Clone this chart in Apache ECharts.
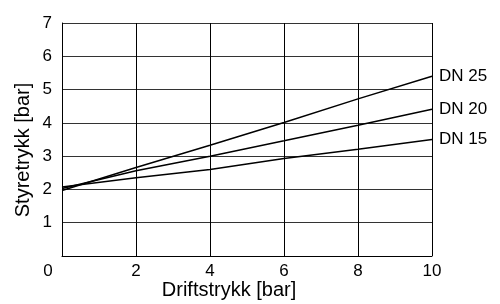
<!DOCTYPE html>
<html>
<head>
<meta charset="utf-8">
<script src="https://cdn.jsdelivr.net/npm/echarts@6/dist/echarts.min.js"></script>
<style>
html, body { margin: 0; padding: 0; background: #fff; }
#chart { width: 500px; height: 304px; }
</style>
</head>
<body>
<div id="chart"></div>
<script>
// driftstrykk (x) readings at each grid line
var xValues = [0, 2, 4, 6, 8, 10];
var dn25 = [1.97, 2.66, 3.33, 4.01, 4.72, 5.4];
var dn20 = [2.03, 2.56, 3.0, 3.46, 3.93, 4.41];
var dn15 = [2.07, 2.35, 2.6, 2.93, 3.21, 3.5];
var seriesNames = ['DN 25', 'DN 20', 'DN 15'];

var font = 'Liberation Sans, Arial, sans-serif';

function pairs(ys) {
    return xValues.map(function (x, i) { return [x, ys[i]]; });
}

function lineSeries(name, ys) {
    return {
        name: name,
        type: 'line',
        data: pairs(ys),
        symbol: 'none',
        silent: true,
        lineStyle: { color: '#000', width: 1.5 },
        endLabel: {
            show: true,
            formatter: '{a}',
            distance: 7,
            color: '#000',
            fontFamily: font,
            fontSize: 17
        }
    };
}

var chart = echarts.init(document.getElementById('chart'));
chart.setOption({
    animation: false,
    grid: { left: 62, right: 68, top: 23, bottom: 48 },
    xAxis: {
        type: 'value',
        min: 0, max: 10, interval: 2,
        axisLine: { show: true, lineStyle: { color: '#000', width: 1 } },
        axisTick: { show: false },
        splitLine: { show: true, lineStyle: { color: '#000', width: 1 } },
        axisLabel: {
            color: '#000', fontFamily: font, fontSize: 17, margin: 7,
            formatter: function (v) {
                return v === 0 ? '{z|0}' : String(v);
            },
            rich: { z: { padding: [0, 28, 0, 0], fontSize: 17, fontFamily: font, color: '#000' } }
        }
    },
    yAxis: {
        type: 'value',
        min: 0, max: 7, interval: 1,
        axisLine: { show: true, lineStyle: { color: '#000', width: 1 } },
        axisTick: { show: false },
        splitLine: { show: true, lineStyle: { color: '#333', width: 1 } },
        axisLabel: {
            color: '#000', fontFamily: font, fontSize: 17, margin: 10,
            showMinLabel: false
        }
    },
    graphic: [
        {
            type: 'text', x: 229, y: 290,
            style: { text: 'Driftstrykk [bar]', fill: '#000', font: '20px ' + font,
                     textAlign: 'center', textVerticalAlign: 'middle' }
        },
        {
            type: 'text', x: 23, y: 150, rotation: Math.PI / 2,
            style: { text: 'Styretrykk [bar]', fill: '#000', font: '20px ' + font,
                     textAlign: 'center', textVerticalAlign: 'middle' }
        }
    ],
    series: [
        lineSeries(seriesNames[0], dn25),
        lineSeries(seriesNames[1], dn20),
        lineSeries(seriesNames[2], dn15)
    ]
});
</script>
</body>
</html>
